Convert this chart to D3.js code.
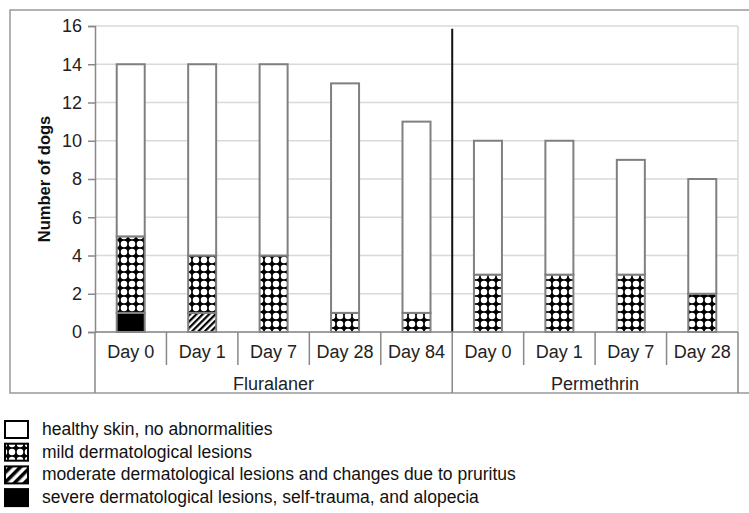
<!DOCTYPE html>
<html><head><meta charset="utf-8">
<script src="https://cdn.jsdelivr.net/npm/d3@7/dist/d3.min.js"></script>
<style>
html,body{margin:0;padding:0;background:#fff;}
svg{display:block;font-family:"Liberation Sans",Arial,sans-serif;}
</style></head>
<body><svg id="c" width="749" height="513"></svg>
<script>
const groups = ["Fluralaner","Permethrin"];
const groupDays = [["Day 0","Day 1","Day 7","Day 28","Day 84"],["Day 0","Day 1","Day 7","Day 28"]];
const severe   = [1,0,0,0,0, 0,0,0,0];
const moderate = [0,1,0,0,0, 0,0,0,0];
const mild     = [4,3,4,1,1, 3,3,3,2];
const healthy  = [9,10,10,12,10, 7,7,6,6];
const yTicks = [0,2,4,6,8,10,12,14,16];
const legendLabels = ["healthy skin, no abnormalities","mild dermatological lesions","moderate dermatological lesions and changes due to pruritus","severe dermatological lesions, self-trauma, and alopecia"];

const cats = [];
groups.forEach((g,gi)=>groupDays[gi].forEach(d=>cats.push({g,d,key:g+"|"+d})));
const seriesKeys = ["severe","moderate","mild","healthy"];
const rows = cats.map((c,i)=>({key:c.key,severe:severe[i],moderate:moderate[i],mild:mild[i],healthy:healthy[i]}));

const svg = d3.select("#c");
const L=95,R=738,T=26,B=332;
const x = d3.scaleBand().domain(cats.map(c=>c.key)).range([L,R]).paddingInner(0.608).paddingOuter(0.304);
const y = d3.scaleLinear().domain([0,16]).range([B,T]);

const defs = svg.append("defs");
const pc = defs.append("pattern").attr("id","checker").attr("patternUnits","userSpaceOnUse").attr("width",8).attr("height",8);
pc.append("rect").attr("width",8).attr("height",8).attr("fill","#000");
pc.append("circle").attr("cx",4).attr("cy",4).attr("r",3.25).attr("fill","#fff");
const ph = defs.append("pattern").attr("id","hatch").attr("patternUnits","userSpaceOnUse").attr("width",4.5).attr("height",4.5).attr("patternTransform","rotate(45)");
ph.append("rect").attr("width",4.5).attr("height",4.5).attr("fill","#fff");
ph.append("rect").attr("width",2.2).attr("height",4.5).attr("fill","#000");
const phL = defs.append("pattern").attr("id","hatchL").attr("patternUnits","userSpaceOnUse").attr("width",7).attr("height",7).attr("patternTransform","rotate(45)");
phL.append("rect").attr("width",7).attr("height",7).attr("fill","#fff");
phL.append("rect").attr("width",3.5).attr("height",7).attr("fill","#000");
const fills = {severe:"#000",moderate:"url(#hatch)",mild:"url(#checker)",healthy:"#fff"};

// outer frame
svg.append("path").attr("d",`M749,10H10V393H749`).attr("fill","none").attr("stroke","#999").attr("stroke-width",1.5);

// gridlines
svg.append("g").selectAll("line").data(yTicks).join("line")
  .attr("x1",L).attr("x2",R).attr("y1",d=>y(d)).attr("y2",d=>y(d))
  .attr("stroke","#d9d9d9").attr("stroke-width",1.5);
svg.append("line").attr("x1",R).attr("x2",R).attr("y1",T).attr("y2",B).attr("stroke","#d9d9d9").attr("stroke-width",1.5);

// y axis
const ya = svg.append("g").attr("transform",`translate(${L},0)`)
  .call(d3.axisLeft(y).tickValues(yTicks).tickSize(7).tickPadding(6));
ya.select(".domain").attr("stroke","#888").attr("stroke-width",1.5);
ya.selectAll(".tick line").attr("stroke","#888").attr("stroke-width",1.5);
ya.selectAll("text").attr("font-size",18).attr("fill","#222").attr("font-family","Liberation Sans, Arial, sans-serif");

svg.append("text").attr("transform",`translate(50,${(T+B)/2}) rotate(-90)`).attr("text-anchor","middle")
  .attr("font-weight","bold").attr("font-size",16.5).attr("fill","#111").text("Number of dogs");

// bars
const stack = d3.stack().keys(seriesKeys)(rows);
const bg = svg.append("g");
stack.forEach(s=>{
  bg.append("g").selectAll("rect").data(s.filter(d=>d[1]-d[0]>0)).join("rect")
    .attr("x",d=>x(d.data.key)).attr("width",x.bandwidth())
    .attr("y",d=>y(d[1])).attr("height",d=>y(d[0])-y(d[1]))
    .attr("fill",fills[s.key]).attr("stroke","#808080").attr("stroke-width",2);
});

// group separator (black)
const sepX = (x(cats[4].key)+x.bandwidth()+x(cats[5].key))/2;
svg.append("line").attr("x1",sepX).attr("x2",sepX).attr("y1",y(15.85)).attr("y2",B).attr("stroke","#111").attr("stroke-width",2);

// category axis
const ca = svg.append("g").attr("stroke","#888").attr("stroke-width",1.5);
ca.append("line").attr("x1",L).attr("x2",R).attr("y1",B).attr("y2",B);
const step = x.step();
let idx=0;
const groupBounds=[];
groups.forEach((g,gi)=>{
  const start = x(cats[idx].key)-x.paddingOuter()*step;
  const n = groupDays[gi].length;
  groupBounds.push([start,start+n*step]);
  idx+=n;
});
cats.forEach((c,i)=>{
  if(i>0 && cats[i-1].g===c.g){
    const bx = x(c.key)-(step-x.bandwidth())/2;
    ca.append("line").attr("x1",bx).attr("x2",bx).attr("y1",B).attr("y2",365);
  }
});
[L, groupBounds[0][1], R].forEach(e=>ca.append("line").attr("x1",e).attr("x2",e).attr("y1",B).attr("y2",393));
svg.append("g").selectAll("text").data(cats).join("text")
  .attr("x",d=>x(d.key)+x.bandwidth()/2).attr("y",358).attr("text-anchor","middle")
  .attr("font-size",18).attr("fill","#222").text(d=>d.d);
svg.append("g").selectAll("text").data(groups).join("text")
  .attr("x",(d,i)=>(groupBounds[i][0]+groupBounds[i][1])/2).attr("y",390).attr("text-anchor","middle")
  .attr("font-size",18).attr("fill","#222").text(d=>d);

// legend
const legFills = ["#fff","url(#checker)","url(#hatchL)","#000"];
const lg = svg.append("g");
legendLabels.forEach((t,i)=>{
  const yy = 421+i*22.7;
  lg.append("rect").attr("x",5).attr("y",yy).attr("width",23).attr("height",17)
    .attr("fill",legFills[i]).attr("stroke","#000").attr("stroke-width",2);
  lg.append("text").attr("x",42).attr("y",yy+14).attr("font-size",17.5).attr("fill","#111").text(t);
});
</script></body></html>
